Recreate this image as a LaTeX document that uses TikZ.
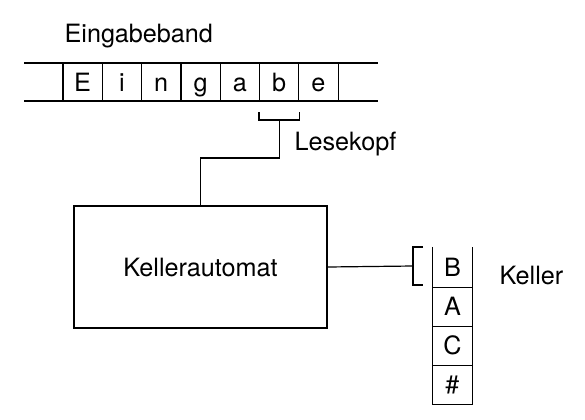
\documentclass[tikz,border=0pt]{standalone}
\usepackage{fontspec}
\setmainfont{TeX Gyre Heros}
\usetikzlibrary{positioning}
\begin{document}
\begin{tikzpicture}[x=0.5pt,y=-0.5pt,line width=0.6pt,
     every node/.style={font=\fontsize{12.6}{15}\selectfont},
     cell/.style={draw,rectangle,minimum width=19.65pt,minimum height=19pt,inner sep=0pt,text height=9pt,text depth=0pt},
     kcell/.style={rectangle,minimum width=19.5pt,minimum height=19.6pt,inner sep=0pt,text height=9pt,text depth=0pt},
     lbl/.style={anchor=base west,inner sep=0pt}
     ]
\useasboundingbox (0,0) rectangle (585,419);

%Tape: left end, top and bottom, cell width
\def \tx{63}
\def \ytop{63}
\def \ybot{101}
\def \w{39.3}
\pgfmathsetmacro{\ty}{(\ytop+\ybot)/2}

%Draw the tape
\draw (24,\ytop) -- (378,\ytop) (24,\ybot) -- (378,\ybot);
\foreach [count=\i] \s in {E,i,n,g,a,b,e}
   {
\node[cell] (t\i) at ({\tx+(\i-0.5)*\w},\ty) {\s};
   }
\node[lbl] (band) at (64,42) {Eingabeband};

%Reading head below the b
\draw (t6.south west |- 0,112) -- (t6.south west |- 0,120) -- (t6.south east |- 0,120) -- (t6.south east |- 0,112);
\coordinate (lk) at (t6.south |- 0,120);
\coordinate (knick) at (t6.south |- 0,158);
\node[lbl] (kopf) at (294,150) {Lesekopf};

%The automaton
\node[draw,rectangle,minimum width=126.5pt,minimum height=61pt] (ka) at (200.5,267) {Kellerautomat};
\draw (lk) -- (knick) -| (ka.north);

%Stack, top cell first
\def \kx{452.5}
\def \ky{267}
\def \h{39.2}
\foreach [count=\i] \s in {B,A,C,\#}
   {
\node[kcell] (k\i) at (\kx,{\ky+(\i-1)*\h}) {\s};
   }
\draw (k1.north west) -- (k4.south west) -- (k4.south east) -- (k1.north east);
\foreach \i in {1,2,3}
   {
\draw (k\i.south west) -- (k\i.south east);
   }
\node[lbl] (keller) at (499,284) {Keller};

%Access to the top of the stack
\coordinate (kk) at (413,266);
\draw (ka.east) -- (kk);
\draw (423,247) -- (413,247) -- (413,285) -- (423,285);
 \end{tikzpicture}
\end{document}
